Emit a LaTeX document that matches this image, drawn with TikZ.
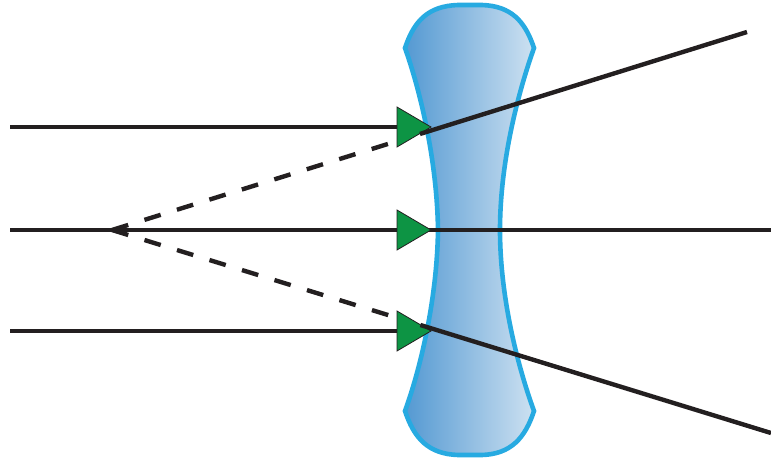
\documentclass[tikz,border=0pt]{standalone}
\usetikzlibrary{calc}
\definecolor{rayblack}{RGB}{35,31,32}
\definecolor{lensedge}{RGB}{39,170,225}
\definecolor{lensdark}{RGB}{84,153,210}
\definecolor{lenslight}{RGB}{205,225,241}
\definecolor{markgreen}{RGB}{13,148,68}
\tikzset{
  ray/.style={draw=rayblack, line width=4.4pt},
  virtualray/.style={draw=rayblack, line width=4.4pt, dash pattern=on 17pt off 17pt},
  lensbody/.style={draw=lensedge, line width=4.6pt, left color=lensdark, right color=lenslight},
  marker/.style={fill=markgreen, draw=rayblack, line width=0.8pt, line join=miter}
}
\begin{document}
\begin{tikzpicture}[x=1pt, y=-1pt]
\useasboundingbox (0,0) rectangle (771,460);
% named points
\coordinate (A1) at (10,127);
\coordinate (A2) at (10,230);
\coordinate (A3) at (10,331);
\coordinate (M1) at (397,127);
\coordinate (M3) at (397,331);
\coordinate (E2) at (771,230);
\coordinate (F) at (112,230);
\coordinate (R1) at (747,32);
\coordinate (R3) at (771,433);
% lens
\path[lensbody] (405,48) .. controls (420,90) and (437,160) .. (438,230)
  .. controls (437,300) and (420,370) .. (405,411)
  .. controls (414,438) and (428,454) .. (458,455) -- (482,455)
  .. controls (511,454) and (525,438) .. (534,411)
  .. controls (519,370) and (500,300) .. (500,230)
  .. controls (500,160) and (519,90) .. (534,48)
  .. controls (525,21) and (511,6) .. (482,5) -- (458,5)
  .. controls (428,6) and (414,21) .. (405,48) -- cycle;
% incoming rays
\draw[ray] (A1) -- (M1);
\draw[ray] (A2) -- (E2);
\draw[ray] (A3) -- (M3);
% virtual rays from focal point
\draw[virtualray] (F) -- ($(F)!0.4535!(R1)$);
\draw[virtualray] (F) -- ($(F)!0.4340!(R3)$);
% markers
\path[marker] (397,107) -- (431,127) -- (397,147) -- cycle;
\path[marker] (397,210) -- (431,230) -- (397,250) -- cycle;
\path[marker] (397,311) -- (431,331) -- (397,351) -- cycle;
% refracted rays
\draw[ray] ($(F)!0.485!(R1)$) -- (R1);
\draw[ray] ($(F)!0.468!(R3)$) -- (R3);
\end{tikzpicture}
\end{document}
